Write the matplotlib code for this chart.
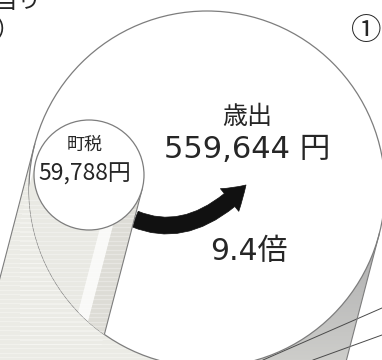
import numpy as np
import matplotlib.pyplot as plt
from matplotlib.patches import Circle, Polygon, FancyArrowPatch
from matplotlib.path import Path

plt.rcParams['font.family'] = ['Noto Sans CJK JP', 'DejaVu Sans']

# values
labels = ['町税', '歳出']
amounts = [59788, 559644]
header = ['1人当り', '）']
badge = '①'

ratio = amounts[1] / amounts[0]

fig = plt.figure(figsize=(3.82, 3.6), dpi=100)
ax = fig.add_axes([0, 0, 1, 1])

# geometry of the two "coins" (pixel units, y down)
d = np.array([-0.26, 1.0])                      # direction the cylinders go back
nrm = np.array([1.0, 0.26]) / np.hypot(1.0, 0.26)
L = 400
big_c, big_r = np.array([207.0, 189.0]), 178
small_c, small_r = np.array([89.0, 175.0]), 55
edge = '#7d7d7d'
ink = '#262626'
num_font = ['DejaVu Sans', 'Noto Sans CJK JP']

def body(c, r):
    a = c - r*nrm
    b = c + r*nrm
    return np.array([a, a + L*d, b + L*d, b])

# big cylinder body, light on the left, grey on the right
bpoly = Polygon(body(big_c, big_r), closed=True, fc='none', ec='none')
ax.add_patch(bpoly)
xx, yy = np.meshgrid(np.linspace(0, 382, 300), np.linspace(0, 360, 300))
t = np.clip((xx - 225) / 30, 0, 1) * (1 - 0.45*np.clip((yy - 260) / 100, 0, 1))
rgb = np.dstack([0.925 - 0.22*t, 0.925 - 0.22*t, 0.9 - 0.195*t])
im = ax.imshow(rgb, extent=(0, 382, 360, 0), zorder=1, interpolation='bilinear')
im.set_clip_path(bpoly)
for y in np.arange(150, 360, 4.5):
    ln, = ax.plot([0, 200], [y, y], color='white', lw=0.9, alpha=0.3, zorder=1.1)
    ln.set_clip_path(bpoly)

# stray thin lines bottom right
ax.plot([382, 263], [308, 360], color='#4a4a4a', lw=0.7, zorder=1.5)
ax.plot([382, 313], [335, 360], color='#4a4a4a', lw=0.7, zorder=1.5)

# big face
big_face = Circle(big_c, big_r, fc='white', ec=edge, lw=0.9, zorder=2)
ax.add_patch(big_face)
for s in (-1, 1):
    p = big_c + s*big_r*nrm
    ax.plot([p[0], p[0] + L*d[0]], [p[1], p[1] + L*d[1]], color=edge, lw=0.8, zorder=2)

# arrow
arrow_path = Path([(135, 219), (190, 242), (246, 185)],
                  [Path.MOVETO, Path.CURVE3, Path.CURVE3])
arr = FancyArrowPatch(path=arrow_path, arrowstyle='simple,tail_width=12,head_width=21,head_length=16',
                      mutation_scale=1, fc='#111111', ec='#111111', lw=0.5, zorder=2.5)
ax.add_patch(arr)

# small cylinder body, inside the big face
sb = body(small_c, small_r)
spoly = Polygon(sb, closed=True, fc='#e9e9e3', ec='none', zorder=3)
ax.add_patch(spoly)
spoly.set_clip_path(big_face)
b = small_c + small_r*nrm
band = Polygon([b - 31*nrm, b - 31*nrm + L*d, b - 19*nrm + L*d, b - 19*nrm],
               closed=True, fc='white', ec='none', alpha=0.75, zorder=3.1)
ax.add_patch(band)
band.set_clip_path(big_face)
strip = Polygon([b - 19*nrm, b - 19*nrm + L*d, b + L*d, b],
                closed=True, fc='#dddcd6', ec='none', zorder=3.1)
ax.add_patch(strip)
strip.set_clip_path(big_face)
for y in np.arange(200, 345, 4.5):
    ln, = ax.plot([20, 150], [y, y], color='white', lw=0.9, alpha=0.3, zorder=3.2)
    ln.set_clip_path(spoly.get_path(), spoly.get_transform())
ln, = ax.plot([b[0], b[0] + L*d[0]], [b[1], b[1] + L*d[1]], color=edge, lw=0.8, zorder=3.3)
ln.set_clip_path(big_face)

# small face
ax.add_patch(Circle(small_c, small_r, fc='white', ec=edge, lw=0.9, zorder=5))

# texts
ax.text(85, 145, labels[0], fontsize=13, ha='center', va='center', color=ink, zorder=6)
ax.text(85, 174, f'{amounts[0]:,}円', fontsize=16.5, ha='center', va='center', color=ink, zorder=6)
ax.text(247, 117, labels[1], fontsize=18, ha='center', va='center', color=ink, zorder=6)
ax.text(247, 149, f'{amounts[1]:,} 円', fontsize=22, ha='center', va='center', color=ink,
        family=num_font, zorder=6)
ax.text(249, 252, f'{ratio:.1f}倍', fontsize=21.5, ha='center', va='center', color=ink,
        family=num_font, zorder=6)
ax.text(42, 1, header[0], fontsize=17, ha='right', va='center', color=ink, zorder=6)
ax.text(-4, 30, header[1], fontsize=17, ha='left', va='center', color=ink, zorder=6)
ax.text(366, 32, badge, fontsize=22, ha='center', va='center', color=ink, zorder=6)

ax.set_xlim(0, 382)
ax.set_ylim(360, 0)
ax.set_aspect('auto')
ax.axis('off')
fig.savefig('out.png', dpi=100)
